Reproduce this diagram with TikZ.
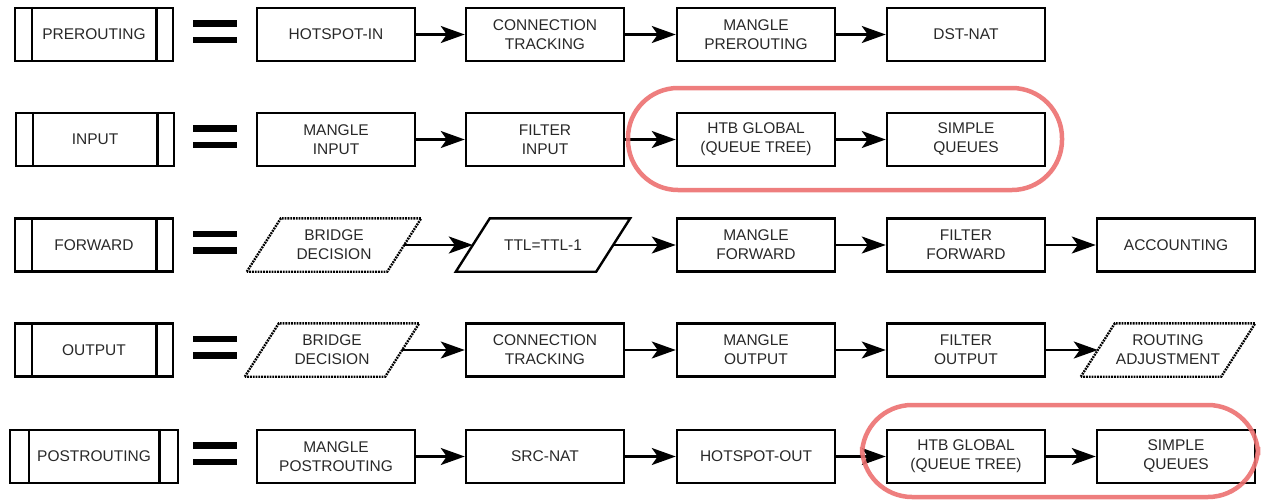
\documentclass[tikz,border=0pt]{standalone}
\usepackage{fontspec}
\setmainfont{Liberation Sans}
\usetikzlibrary{arrows.meta}
\definecolor{hilite}{RGB}{236,112,112}
\definecolor{ink}{RGB}{40,40,40}
\begin{document}
\begin{tikzpicture}[x=1pt,y=-1pt,
  every node/.style={text=ink, align=center, inner sep=0pt,
    font=\fontsize{15.5}{19}\selectfont},
  stagebox/.style={draw=black, line width=2.5pt, minimum width=158pt, minimum height=53pt},
  chainbox/.style={draw=black, line width=2.2pt, minimum width=158pt, minimum height=53pt},
  parabody/.style={minimum width=140pt, minimum height=53pt},
  flow/.style={line width=2.5pt, -{Stealth[length=24pt,width=17pt,inset=6pt]}},
  paraline/.style={line width=2.4pt, line join=miter},
  dotline/.style={paraline, dash pattern=on 1.8pt off 1pt},
  equalbar/.style={fill=black},
  hl/.style={draw=hilite, line width=4.5pt, rounded corners=50pt, opacity=0.9}
]
\useasboundingbox (0,0) rectangle (1262,501);

% chain names on the left
\node[chainbox] (pre)  at (94,34.5)  {PREROUTING};
\node[chainbox] (inp)  at (95,139.5) {INPUT};
\node[chainbox] (fwd)  at (94,245)   {FORWARD};
\node[chainbox] (out)  at (94,350)   {OUTPUT};
\node[chainbox, minimum width=168pt] (post) at (94,456.5) {POSTROUTING};
\foreach \n/\d in {pre/18,inp/18,fwd/18,out/18,post/20}{
  \draw[line width=2.8pt] ([xshift=\d pt]\n.north west) -- ([xshift=\d pt]\n.south west);
  \draw[line width=2.8pt] ([xshift=-\d pt]\n.north east) -- ([xshift=-\d pt]\n.south east);
}

% equals signs
\foreach \r in {34.5,139.5,245,350,456.5}{
  \fill[equalbar] (193,\r-14.5) rectangle (237,\r-8);
  \fill[equalbar] (193,\r+2) rectangle (237,\r+8.5);
}

% PREROUTING
\node[stagebox] (hsin) at (336,34.5) {HOTSPOT-IN};
\node[stagebox] (ct1)  at (545,34.5) {CONNECTION\\TRACKING};
\node[stagebox] (mpre) at (756,34.5) {MANGLE\\PREROUTING};
\node[stagebox] (dnat) at (966,34.5) {DST-NAT};
\draw[flow] (hsin) -- (ct1);
\draw[flow] (ct1) -- (mpre);
\draw[flow] (mpre) -- (dnat);

% INPUT
\node[stagebox] (min)  at (336,139.5) {MANGLE\\INPUT};
\node[stagebox] (fin)  at (545,139.5) {FILTER\\INPUT};
\node[stagebox] (htbi) at (756,139.5) {HTB GLOBAL\\(QUEUE TREE)};
\node[stagebox] (sqi)  at (966,139.5) {SIMPLE\\QUEUES};
\draw[flow] (min) -- (fin);
\draw[flow] (fin) -- (htbi);
\draw[flow] (htbi) -- (sqi);

% FORWARD
\node[parabody] (bdf) at (334,245) {BRIDGE\\DECISION};
\node[parabody] (ttl) at (543,245) {TTL=TTL-1};
\node[stagebox] (mfw) at (756,245) {MANGLE\\FORWARD};
\node[stagebox] (ffw) at (966,245) {FILTER\\FORWARD};
\node[stagebox] (acc) at (1176,245) {ACCOUNTING};
\draw[flow] (bdf) -- (ttl);
\draw[flow] (ttl) -- (mfw);
\draw[flow] (mfw) -- (ffw);
\draw[flow] (ffw) -- (acc);

% OUTPUT
\node[parabody] (bdo)  at (332,350)  {BRIDGE\\DECISION};
\node[stagebox] (cto)  at (545,350)  {CONNECTION\\TRACKING};
\node[stagebox] (mout) at (756,350)  {MANGLE\\OUTPUT};
\node[stagebox] (fout) at (966,350)  {FILTER\\OUTPUT};
\node[parabody] (radj) at (1168,350) {ROUTING\\ADJUSTMENT};
\draw[flow] (bdo) -- (cto);
\draw[flow] (cto) -- (mout);
\draw[flow] (mout) -- (fout);
\draw[flow] (fout) -- (radj);

% POSTROUTING
\node[stagebox] (mpost) at (336,456.5)  {MANGLE\\POSTROUTING};
\node[stagebox] (snat)  at (545,456.5)  {SRC-NAT};
\node[stagebox] (hout)  at (756,456.5)  {HOTSPOT-OUT};
\node[stagebox] (htbp)  at (966,456.5)  {HTB GLOBAL\\(QUEUE TREE)};
\node[stagebox] (sqp)   at (1176,456.5) {SIMPLE\\QUEUES};
\draw[flow] (mpost) -- (snat);
\draw[flow] (snat) -- (hout);
\draw[flow] (hout) -- (htbp);
\draw[flow] (htbp) -- (sqp);

% slanted outlines for the parallelogram steps
\foreach \n/\s in {bdf/dotline, ttl/paraline, bdo/dotline, radj/dotline}{
  \draw[\s] ([xshift=-17pt]\n.south west) -- ([xshift=17pt]\n.north west)
    -- ([xshift=17pt]\n.north east) -- ([xshift=-17pt]\n.south east) -- cycle;
}

% queue highlights
\draw[hl] (628,88) rectangle (1062,190);
\draw[hl] (862,405) rectangle (1258,497);
\end{tikzpicture}
\end{document}
